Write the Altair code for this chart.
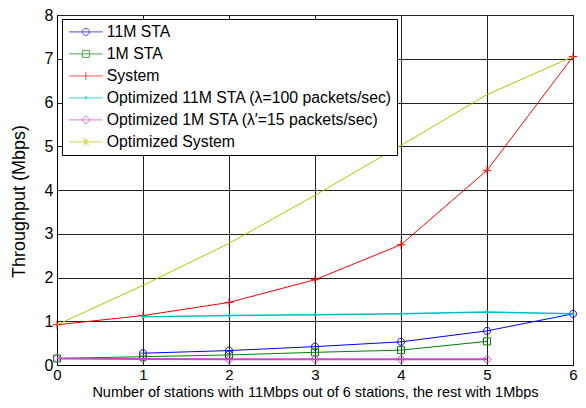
import altair as alt
import pandas as pd

x_vals = [0, 1, 2, 3, 4, 5, 6]

sta11 = [None, 0.27, 0.33, 0.42, 0.53, 0.78, 1.17]
sta1 = [0.15, 0.19, 0.23, 0.29, 0.34, 0.54, None]
system = [0.92, 1.13, 1.43, 1.95, 2.75, 4.45, 7.05]
opt11 = [None, 1.10, 1.13, 1.15, 1.17, 1.21, 1.17]
opt1 = [0.15, 0.14, 0.13, 0.13, 0.13, 0.13, None]
optsys = [0.92, 1.82, 2.78, 3.88, 5.02, 6.18, 7.05]

names = [
    "11M STA",
    "1M STA",
    "System",
    "Optimized 11M STA (λ=100 packets/sec)",
    "Optimized 1M STA (λ′=15 packets/sec)",
    "Optimized System",
]
series_vals = [sta11, sta1, system, opt11, opt1, optsys]
colors = ["#0000FF", "#008000", "#FF0000", "#00BFBF", "#CC44CC", "#BFBF00"]
widths = [1, 1, 1, 1.5, 2, 1]

marker_paths = [
    "M0.5,0A0.5,0.5 0 1 1 -0.5,0A0.5,0.5 0 1 1 0.5,0",
    "M-0.5,-0.5H0.5V0.5H-0.5Z",
    "M-0.6,0H0.6M0,-0.6V0.6",
    "M0.2,0A0.2,0.2 0 1 1 -0.2,0A0.2,0.2 0 1 1 0.2,0",
    "M0,-0.6L0.6,0L0,0.6L-0.6,0Z",
    "M-0.55,0H0.55M0,-0.55V0.55M-0.4,-0.4L0.4,0.4M-0.4,0.4L0.4,-0.4",
]
marker_filled = [False, False, False, True, False, True]

rows = []
for name, vals in zip(names, series_vals):
    for xv, yv in zip(x_vals, vals):
        if yv is not None:
            rows.append({"x": xv, "y": yv, "series": name})
df = pd.DataFrame(rows)

xscale = alt.Scale(domain=[0, 6], nice=False)
yscale = alt.Scale(domain=[0, 8], nice=False)
xaxis = alt.Axis(
    title="Number of stations with 11Mbps out of 6 stations, the rest with 1Mbps",
    values=x_vals, format="d", labelFlush=False, ticks=False, tickSize=0,
    labelPadding=2, labelFontSize=15, titleY=31, titleBaseline="alphabetic",
    titleFontSize=14.5, titleFontWeight="normal",
)
yaxis = alt.Axis(
    title="Throughput (Mbps)", values=list(range(0, 9)), format="d",
    ticks=False, tickSize=0, labelPadding=4, titlePadding=16,
    titleFontSize=18, titleFontWeight="normal", titleY=186,
)

layers = []
for i, name in enumerate(names):
    sub = alt.Chart(df).transform_filter(alt.datum.series == name)
    line = sub.mark_line(color=colors[i], strokeWidth=widths[i]).encode(
        x=alt.X("x:Q", scale=xscale, axis=xaxis),
        y=alt.Y("y:Q", scale=yscale, axis=yaxis),
    )
    pt = sub.mark_point(
        shape=marker_paths[i], size=196, color=colors[i],
        filled=marker_filled[i], strokeWidth=1, opacity=1,
    ).encode(x="x:Q", y="y:Q")
    layers += [line, pt]

# legend symbols: a short line with the marker in its middle
off = 1.57
L = f"M{-2.4+off:.2f},0H{2.4+off:.2f}"
leg_paths = [
    L + f"M{off+0.5:.2f},0A0.5,0.5 0 1 1 {off-0.5:.2f},0A0.5,0.5 0 1 1 {off+0.5:.2f},0",
    L + f"M{off-0.5:.2f},-0.5H{off+0.5:.2f}V0.5H{off-0.5:.2f}Z",
    L + f"M{off:.2f},-0.6V0.6",
    L + f"M{off+0.2:.2f},0A0.2,0.2 0 1 1 {off-0.2:.2f},0A0.2,0.2 0 1 1 {off+0.2:.2f},0",
    L + f"M{off:.2f},-0.6L{off+0.6:.2f},0L{off:.2f},0.6L{off-0.6:.2f},0Z",
    L + f"M{off:.2f},-0.55V0.55M{off-0.4:.2f},-0.4L{off+0.4:.2f},0.4M{off-0.4:.2f},0.4L{off+0.4:.2f},-0.4",
]

legend_layer = alt.Chart(df).transform_filter("false").mark_point(filled=False).encode(
    x="x:Q",
    y="y:Q",
    color=alt.Color(
        "series:N",
        scale=alt.Scale(domain=names, range=colors),
        legend=alt.Legend(
            title=None, orient="none", legendX=5, legendY=4,
            symbolSize=196, symbolStrokeWidth=1, symbolType="circle",
            labelOffset=24, labelLimit=500, labelFontSize=15.8,
            labelFont="Liberation Sans", labelColor="black",
            padding=5, rowPadding=5, strokeColor="black",
            fillColor="white", cornerRadius=0,
        ),
    ),
    shape=alt.Shape(
        "series:N",
        scale=alt.Scale(domain=names, range=leg_paths),
        legend=alt.Legend(title=None),
    ),
)
layers.append(legend_layer)

chart = alt.layer(*layers).properties(
    width=516, height=350,
    autosize=alt.AutoSizeParams(type="none"),
    padding={"left": 49, "top": 7, "right": 5, "bottom": 34},
    background="white",
).configure_view(
    stroke="black", strokeWidth=1,
).configure_axis(
    labelFont="Liberation Sans", titleFont="Liberation Sans",
    labelFontSize=16, labelColor="black", titleColor="black",
    domainColor="black", gridColor="#222222",
    gridOpacity=1, gridWidth=1, domain=True,
)

chart.save("out.html", embed_options={"renderer": "svg", "actions": False})
